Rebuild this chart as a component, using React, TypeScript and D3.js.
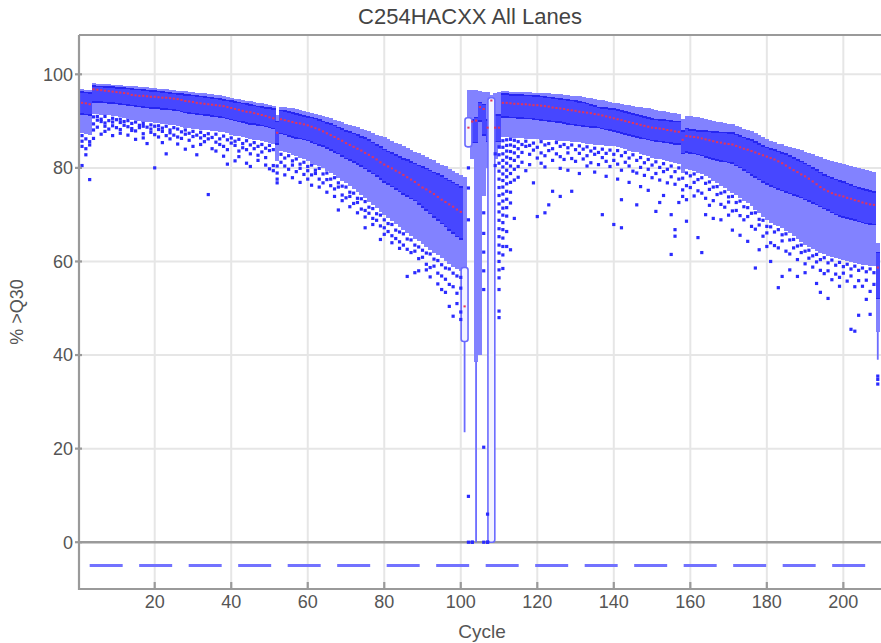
import * as d3 from 'd3';

// % >Q30 per cycle, one box per cycle (index = cycle - 1)
const hi = [
  96.8, 96.7, 96.6, 98.1, 98.0, 98.0, 97.9, 97.9, 97.8, 97.8,
  97.7, 97.6, 97.5, 97.4, 97.4, 97.3, 97.2, 97.2, 97.1, 97.0,
  96.9, 96.9, 96.8, 96.7, 96.6, 96.5, 96.5, 96.4, 96.3, 96.2,
  96.1, 96.0, 95.9, 95.8, 95.7, 95.6, 95.5, 95.3, 95.2, 95.0,
  94.8, 94.7, 94.5, 94.4, 94.2, 94.1, 93.9, 93.8, 93.6, 93.5,
  93.3, 91.2, 93.1, 93.0, 92.8, 92.7, 92.5, 92.4, 92.2, 92.0,
  91.8, 91.6, 91.3, 91.1, 90.8, 90.6, 90.3, 90.0, 89.7, 89.4,
  89.2, 88.9, 88.7, 88.4, 88.2, 87.8, 87.5, 87.1, 86.8, 86.5,
  86.1, 85.8, 85.4, 85.1, 84.7, 84.3, 83.9, 83.5, 83.2, 82.8,
  82.4, 82.0, 81.6, 81.1, 80.7, 80.3, 79.8, 79.4, 78.9, 78.5,
  78.0, 96.7, 96.7, 96.7, 96.5, 96.3, 96.2, 95.5, 96.0, 96.3,
  96.4, 96.4, 96.3, 96.3, 96.3, 96.2, 96.2, 96.2, 96.1, 96.1,
  96.0, 95.9, 95.9, 95.8, 95.7, 95.7, 95.6, 95.5, 95.4, 95.4,
  95.3, 95.2, 95.0, 94.9, 94.8, 94.6, 94.5, 94.3, 94.1, 93.9,
  93.8, 93.6, 93.5, 93.4, 93.3, 93.1, 93.0, 92.8, 92.7, 92.5,
  92.4, 92.2, 92.1, 92.0, 91.8, 91.7, 91.5, 90.5, 91.0, 91.0,
  90.9, 90.8, 90.6, 90.5, 90.3, 90.1, 89.9, 89.7, 89.6, 89.4,
  89.3, 89.0, 88.7, 88.4, 88.1, 87.8, 87.4, 87.0, 86.6, 86.2,
  85.8, 85.5, 85.2, 85.0, 84.7, 84.5, 84.2, 84.0, 83.8, 83.5,
  83.2, 82.9, 82.6, 82.3, 82.0, 81.7, 81.4, 81.2, 81.0, 80.8,
  80.6, 80.4, 80.2, 80.0, 79.8, 79.6, 79.4, 79.2, 64.0,
];

const q3 = [
  96.3, 96.2, 96.1, 97.6, 97.5, 97.5, 97.4, 97.4, 97.3, 97.2,
  97.2, 97.1, 97.0, 96.9, 96.8, 96.8, 96.7, 96.6, 96.5, 96.5,
  96.4, 96.3, 96.2, 96.1, 96.0, 95.9, 95.8, 95.7, 95.6, 95.5,
  95.4, 95.3, 95.2, 95.1, 95.0, 94.9, 94.8, 94.6, 94.5, 94.3,
  94.1, 94.0, 93.8, 93.7, 93.5, 93.4, 93.2, 93.1, 92.9, 92.8,
  92.6, 90.0, 92.3, 92.2, 92.0, 91.8, 91.6, 91.4, 91.2, 91.0,
  90.8, 90.6, 90.3, 90.0, 89.7, 89.4, 89.1, 88.7, 88.4, 88.0,
  87.7, 87.4, 87.1, 86.7, 86.4, 86.0, 85.5, 85.0, 84.5, 84.0,
  83.6, 83.2, 82.8, 82.4, 82.0, 81.7, 81.3, 81.0, 80.6, 80.3,
  79.9, 79.5, 79.1, 78.7, 78.3, 77.8, 77.4, 76.9, 76.5, 76.0,
  58.7, 90.7, 90.3, 90.8, 94.0, 93.6, 90.3, 95.0, 91.4, 91.4,
  95.8, 95.8, 95.7, 95.7, 95.6, 95.6, 95.5, 95.5, 95.4, 95.4,
  95.3, 95.2, 95.1, 95.0, 94.9, 94.8, 94.7, 94.6, 94.5, 94.4,
  94.2, 94.0, 93.8, 93.5, 93.3, 93.0, 92.9, 92.8, 92.7, 92.6,
  92.4, 92.2, 92.0, 91.8, 91.6, 91.4, 91.2, 91.0, 90.7, 90.5,
  90.4, 90.3, 90.3, 90.2, 90.1, 90.0, 90.0, 88.0, 88.5, 88.2,
  88.1, 88.0, 87.9, 87.9, 87.8, 87.7, 87.7, 87.6, 87.6, 87.5,
  87.5, 87.2, 86.9, 86.6, 86.3, 86.0, 85.6, 85.2, 84.8, 84.4,
  84.1, 83.9, 83.6, 83.3, 83.0, 82.6, 82.2, 81.8, 81.4, 81.0,
  80.6, 80.1, 79.6, 79.1, 78.6, 78.2, 77.9, 77.6, 77.3, 77.0,
  76.7, 76.4, 76.1, 75.8, 75.5, 75.3, 75.1, 74.9, 62.0,
];

const med = [
  93.9, 93.8, 93.6, 96.8, 96.7, 96.6, 96.5, 96.4, 96.3, 96.2,
  96.1, 96.0, 95.9, 95.6, 95.5, 95.4, 95.4, 95.3, 95.2, 95.2,
  95.1, 95.0, 95.0, 94.9, 94.8, 94.7, 94.5, 94.3, 94.2, 94.1,
  93.9, 93.8, 93.7, 93.6, 93.5, 93.4, 93.3, 93.2, 93.0, 92.8,
  92.6, 92.4, 92.2, 92.0, 91.9, 91.7, 91.5, 91.3, 91.1, 90.8,
  90.6, 87.5, 90.4, 90.2, 90.0, 89.8, 89.6, 89.5, 89.3, 89.1,
  88.8, 88.5, 88.2, 87.8, 87.4, 87.0, 86.6, 86.2, 85.8, 85.3,
  84.9, 84.5, 84.1, 83.7, 83.2, 82.8, 82.3, 81.8, 81.2, 80.7,
  80.3, 79.9, 79.4, 79.0, 78.5, 78.0, 77.5, 77.0, 76.4, 75.8,
  75.4, 74.9, 74.4, 73.8, 73.2, 72.7, 72.2, 71.7, 71.1, 70.6,
  50.4, 88.6, 89.9, 90.1, 93.0, 92.6, 88.6, 94.4, 88.6, 88.6,
  93.9, 93.9, 93.8, 93.7, 93.7, 93.6, 93.6, 93.5, 93.4, 93.4,
  93.3, 93.2, 93.1, 92.9, 92.8, 92.7, 92.6, 92.4, 92.3, 92.2,
  92.0, 91.9, 91.8, 91.7, 91.5, 91.4, 91.2, 91.0, 90.8, 90.6,
  90.4, 90.2, 90.0, 89.8, 89.6, 89.4, 89.2, 89.0, 88.8, 88.6,
  88.5, 88.4, 88.3, 88.1, 88.0, 87.8, 87.7, 86.0, 86.8, 86.7,
  86.6, 86.5, 86.3, 86.1, 85.9, 85.7, 85.5, 85.4, 85.2, 85.1,
  85.0, 84.7, 84.4, 84.1, 83.9, 83.6, 83.3, 83.0, 82.7, 82.4,
  82.1, 81.8, 81.4, 81.0, 80.5, 80.0, 79.5, 79.1, 78.6, 78.2,
  77.7, 77.1, 76.5, 75.9, 75.4, 75.0, 74.6, 74.3, 74.1, 73.9,
  73.6, 73.4, 73.1, 72.9, 72.6, 72.4, 72.2, 72.1, 58.7,
];

const q1 = [
  91.5, 91.4, 91.2, 94.1, 94.0, 94.0, 93.9, 93.8, 93.8, 93.7,
  93.6, 93.5, 93.4, 93.3, 93.2, 93.1, 93.0, 92.9, 92.8, 92.8,
  92.7, 92.6, 92.5, 92.4, 92.3, 92.2, 92.0, 91.8, 91.7, 91.6,
  91.5, 91.4, 91.3, 91.2, 91.0, 90.9, 90.8, 90.7, 90.5, 90.3,
  90.1, 89.9, 89.8, 89.6, 89.4, 89.3, 89.1, 89.0, 88.8, 88.6,
  88.4, 85.0, 87.3, 87.1, 86.8, 86.6, 86.4, 86.2, 86.0, 85.8,
  85.5, 85.2, 84.9, 84.6, 84.2, 83.8, 83.4, 83.0, 82.5, 82.0,
  81.6, 81.2, 80.8, 80.3, 79.8, 79.3, 78.8, 78.2, 77.6, 77.0,
  76.5, 76.0, 75.4, 74.9, 74.4, 73.9, 73.4, 73.0, 72.3, 71.6,
  70.9, 70.2, 69.5, 68.8, 68.1, 67.4, 66.7, 66.0, 65.3, 64.7,
  42.9, 84.5, 85.4, 85.4, 90.0, 87.0, 85.6, 0.0, 85.6, 85.6,
  90.8, 90.8, 90.7, 90.7, 90.6, 90.6, 90.5, 90.5, 90.4, 90.3,
  90.2, 90.1, 90.0, 89.9, 89.8, 89.7, 89.5, 89.4, 89.2, 89.1,
  89.0, 88.9, 88.8, 88.7, 88.7, 88.6, 88.4, 88.2, 88.0, 87.8,
  87.6, 87.4, 87.2, 87.0, 86.8, 86.6, 86.4, 86.2, 86.0, 85.8,
  85.7, 85.6, 85.5, 85.4, 85.3, 85.1, 85.0, 83.0, 83.4, 83.2,
  83.0, 82.8, 82.6, 82.3, 82.1, 81.9, 81.6, 81.4, 81.3, 81.1,
  81.0, 80.5, 80.0, 79.5, 79.0, 78.5, 78.0, 77.5, 77.0, 76.5,
  76.1, 75.8, 75.5, 75.1, 74.8, 74.5, 74.2, 73.9, 73.6, 73.2,
  72.9, 72.5, 72.1, 71.7, 71.3, 70.9, 70.4, 70.0, 69.7, 69.4,
  69.2, 69.0, 68.8, 68.5, 68.3, 68.1, 68.0, 67.9, 52.0,
];

const lo = [
  87.5, 87.3, 87.0, 91.6, 91.5, 91.4, 91.3, 91.2, 91.1, 91.0,
  90.8, 90.7, 90.5, 90.3, 90.2, 90.0, 89.9, 89.8, 89.7, 89.6,
  89.5, 89.4, 89.3, 89.2, 89.1, 89.0, 88.8, 88.6, 88.5, 88.4,
  88.3, 88.2, 88.1, 88.0, 87.9, 87.8, 87.7, 87.6, 87.4, 87.1,
  86.9, 86.8, 86.6, 86.4, 86.2, 86.0, 85.9, 85.7, 85.5, 85.3,
  85.0, 81.5, 83.6, 83.4, 83.1, 82.8, 82.5, 82.2, 81.8, 81.5,
  81.1, 80.7, 80.3, 79.9, 79.4, 78.9, 78.4, 77.9, 77.3, 76.7,
  76.1, 75.5, 74.9, 74.2, 73.5, 72.8, 72.1, 71.4, 70.6, 70.0,
  69.3, 68.7, 68.0, 67.4, 66.8, 66.1, 65.5, 64.9, 64.3, 63.7,
  63.1, 62.5, 61.9, 61.3, 60.7, 60.1, 59.5, 58.9, 58.4, 58.0,
  42.9, 84.5, 82.0, 38.6, 40.0, 74.0, 80.0, 0.0, 82.0, 84.0,
  86.5, 86.5, 86.4, 86.4, 86.3, 86.3, 86.2, 86.2, 86.1, 86.1,
  86.0, 86.0, 85.9, 85.9, 85.8, 85.8, 85.7, 85.7, 85.6, 85.6,
  85.5, 85.4, 85.2, 85.0, 84.9, 84.8, 84.8, 84.7, 84.7, 84.6,
  84.4, 84.2, 84.0, 83.7, 83.5, 83.3, 83.0, 82.8, 82.5, 82.2,
  82.0, 81.8, 81.6, 81.4, 81.2, 81.0, 80.8, 79.0, 79.8, 79.6,
  79.3, 79.0, 78.6, 78.2, 77.8, 77.3, 76.7, 76.1, 75.6, 75.1,
  74.7, 74.2, 73.6, 73.0, 72.4, 71.8, 71.1, 70.4, 69.6, 68.9,
  68.2, 67.8, 67.5, 67.2, 66.6, 66.0, 65.4, 64.8, 64.2, 63.6,
  63.1, 62.6, 62.2, 61.8, 61.5, 61.2, 61.0, 60.7, 60.5, 60.3,
  60.1, 59.9, 59.7, 59.5, 59.3, 59.2, 59.1, 59.0, 45.0,
];

// whisker tails below the filled range: [cycle, value]
const tails: [number, number][] = [[101, 23.5], [104, 0], [209, 39]];
// cycles whose IQR box is drawn open
const hollowCycles = [101, 102, 108];

// outlier tiles per cycle (index = cycle - 1)
const outliers: number[][] = [
  [86.9, 85.7, 84.6, 80.5], [86.2, 84.1, 82.8], [85.6, 84.9, 77.5], [90.9, 89.4, 88.1, 86.3], [91.0, 90.2, 88.7],
  [90.4, 89.9, 87.2], [91.0, 89.6, 88.9, 87.8], [90.1, 88.3], [90.6, 89.8, 89.0, 86.9], [90.3, 88.6],
  [90.4, 89.7, 88.2, 87.4], [89.9, 89.1], [90.1, 88.8, 87.0], [89.5, 88.4, 88.0], [89.8, 87.9, 86.1],
  [89.1, 88.6], [89.5, 88.9, 87.3, 86.4], [88.7, 85.2], [89.2, 88.3, 87.6], [88.9, 87.1, 80.0],
  [89.0, 88.2, 86.6], [88.5, 87.8, 85.4], [88.9, 86.9, 83.0], [88.1, 87.5, 86.2], [88.6, 87.0],
  [88.3, 86.6, 85.1], [87.7, 86.3], [88.1, 87.2, 84.0], [87.4, 85.9], [87.8, 86.7, 84.6],
  [87.0, 82.8], [87.6, 86.4, 85.0], [86.9, 85.6], [87.3, 86.2, 74.3], [86.5, 84.1],
  [87.2, 85.5, 83.6], [86.2, 85.0], [86.8, 84.6, 82.5], [86.0, 83.9, 80.8], [86.4, 85.3],
  [85.7, 84.8, 81.5], [86.1, 83.6, 82.4], [85.2, 84.3], [85.8, 83.9, 81.0], [84.9, 83.0, 80.3],
  [85.4, 84.1], [84.6, 82.7, 81.6], [85.0, 83.4], [84.2, 82.2, 80.6], [84.8, 83.7, 79.8],
  [83.9, 80.5, 79.4], [80.4, 78.9, 77.6, 76.8], [82.9, 81.2], [82.1, 80.4, 78.5], [82.6, 79.7],
  [81.5, 80.6, 77.9], [81.9, 79.2], [80.8, 79.9, 76.9], [81.2, 78.6], [80.3, 79.4, 77.6],
  [80.6, 78.5, 76.3], [79.5, 78.8], [79.9, 77.6, 75.9], [78.7, 76.8], [78.9, 77.5, 74.8],
  [77.6, 76.2], [77.9, 75.5, 73.9], [76.8, 75.9, 71.0], [76.1, 74.2, 73.0], [75.9, 73.6],
  [74.8, 73.9, 71.7], [74.6, 72.4], [73.5, 72.6, 70.4], [73.4, 71.2], [72.8, 70.9, 69.5, 67.2],
  [71.6, 70.3], [71.3, 69.2, 67.9], [70.2, 68.8], [69.9, 67.6, 64.7], [68.9, 67.2, 65.8],
  [68.1, 66.4], [67.9, 65.5, 64.0], [66.7, 64.9], [66.3, 64.2, 62.8], [65.9, 63.5],
  [64.8, 62.6, 56.8], [64.6, 61.9], [63.5, 62.2, 57.6], [63.1, 60.6, 58.0], [62.4, 60.9],
  [61.8, 59.4, 58.2], [61.6, 58.7, 56.7], [60.5, 59.0], [60.2, 57.5, 55.2], [59.3, 56.9, 54.0],
  [58.6, 56.2, 53.4], [58.4, 55.1, 50.4], [57.5, 54.6, 48.3], [56.9, 53.2, 51.0], [56.6, 54.3, 49.2, 47.6],
  [], [80.0, 75.7, 68.9, 9.8, 0], [0, 0], [], [],
  [70.4, 66.0, 62.0, 58.0, 54.0, 20.3, 0], [6.0, 0, 0], [], [83.0, 80.5],
  [84.5, 82.8, 81.0, 79.3, 77.6, 75.8, 74.1, 72.3, 70.6, 68.8, 67.0, 65.3, 63.5, 61.8, 60.0, 58.2, 56.5, 54.0, 49.4, 48.0],
  [85.8, 84.4, 83.0, 81.6, 80.2, 78.7, 77.3, 75.9, 74.4, 72.9, 71.4, 69.9, 68.3, 66.8, 65.0, 63.2, 61.4, 58.5],
  [86.0, 84.8, 83.6, 82.3, 81.0, 79.5, 78.1, 76.6, 75.0, 73.3, 71.5, 69.7, 66.4, 63.2],
  [86.1, 84.9, 83.5, 82.0, 80.4, 78.8, 76.9, 74.8, 72.5, 62.5],
  [85.9, 84.6, 83.2, 81.6, 79.7, 77.4, 69.2], [85.6, 84.1, 82.4, 80.3, 78.0],
  [85.0, 83.3, 81.2], [85.7, 84.6, 79.4], [84.8, 82.9, 80.7], [85.3, 83.8, 76.8], [84.4, 82.1, 69.6],
  [85.6, 83.2, 81.0], [84.9, 82.6, 80.2, 70.4], [85.2, 83.7, 72.1], [84.1, 81.6, 75.0], [85.4, 83.0],
  [84.6, 82.4, 79.9, 73.9], [85.0, 81.8], [84.3, 83.2, 79.5], [84.9, 82.0, 75.0], [83.9, 81.4],
  [84.7, 83.1, 78.8], [84.0, 81.9], [84.5, 82.6, 80.4], [83.6, 81.1], [84.2, 82.9, 79.1],
  [83.3, 80.7], [84.0, 82.2, 70.0], [83.1, 81.4, 78.2], [83.8, 80.3], [82.9, 81.6, 67.9],
  [83.7, 80.8, 77.6], [82.6, 79.5, 73.2, 67.2], [83.3, 81.2], [82.1, 80.4, 76.9], [82.8, 79.3],
  [81.6, 78.9, 72.1], [82.2, 80.1, 76.0], [81.1, 78.4], [81.8, 79.7, 75.2], [80.6, 77.9],
  [81.3, 78.8, 70.7], [80.1, 77.4, 72.6], [80.9, 79.2, 74.1], [79.7, 76.8], [80.4, 78.1, 70.0, 61.5],
  [79.2, 76.5, 66.8, 65.4], [80.0, 77.6, 72.6], [77.8, 75.3, 73.9], [78.9, 76.2, 73.2, 68.6], [78.3, 75.8],
  [78.7, 76.9, 74.0], [77.5, 75.1, 65.1], [77.9, 74.6, 61.9], [76.7, 73.5, 70.0], [77.0, 75.4, 72.0],
  [75.9, 73.0, 69.2], [76.0, 74.3], [74.6, 72.2, 68.9], [74.9, 71.6], [73.8, 72.7, 69.9],
  [73.9, 70.8, 66.7], [72.6, 70.9], [72.9, 69.8, 65.6], [71.7, 68.9], [71.5, 69.6, 64.3],
  [70.3, 67.5], [70.4, 66.9, 58.6], [69.0, 67.8, 62.5], [68.8, 65.4], [67.5, 66.1, 63.2],
  [67.4, 64.0, 60.0], [66.3, 63.4], [66.8, 62.9, 54.4], [65.7, 64.4, 56.8], [65.9, 62.2],
  [64.6, 61.6, 58.2], [64.7, 62.9], [63.3, 60.4, 56.8], [63.5, 61.9], [62.2, 59.5, 57.6],
  [62.4, 60.7], [61.2, 58.8], [61.5, 59.9, 55.3], [60.4, 58.1, 53.4], [60.8, 57.4],
  [59.7, 58.0, 52.1], [60.3, 56.1], [59.2, 57.3], [59.8, 56.6, 54.7], [58.9, 57.5],
  [59.4, 55.8], [58.4, 56.9, 45.5], [59.0, 54.6, 45.1], [58.1, 55.9, 48.5], [58.6, 54.7],
  [57.8, 56.0, 51.9], [58.4, 53.6, 48.7], [57.6, 55.1], [35.5, 34.8, 33.8],
];

const xTicks = [20, 40, 60, 80, 100, 120, 140, 160, 180, 200];
const yTicks = [0, 20, 40, 60, 80, 100];
const thresholdLevel = -5;
const thresholdStart = 3;

const title = 'C254HACXX All Lanes';
const xLabel = 'Cycle';
const yLabel = '% >Q30';

const width = 881;
const height = 643;
const margin = { top: 35, right: 0, bottom: 54, left: 79 };

const LIGHT = '#8282ff';
const DARK = '#4747ff';
const EDGE = '#2626f2';
const DOT = '#2b2bff';
const MEDIAN = '#e2345e';
const AXIS = '#9a9a9a';
const GRID = '#e6e6e6';
const TEXT = '#555555';

export default function App() {
  const x = d3.scaleLinear().domain([0, 210]).range([78.2, 881.6]);
  const y = d3.scaleLinear().domain([-10, 108.4]).range([height - margin.bottom, margin.top]);
  const step = x(1) - x(0);
  const cycles = d3.range(1, hi.length + 1);
  const left = margin.left;
  const bottom = height - margin.bottom;
  const font = "'Liberation Sans', Arial, sans-serif";

  return (
    <div style={{ position: 'absolute', left: 0, top: 0 }}>
      <svg width={width} height={height} style={{ display: 'block', background: '#fff' }} fontFamily={font}>
        {/* grid */}
        <g>
          {xTicks.map((t) => (
            <line key={'gx' + t} x1={x(t)} x2={x(t)} y1={margin.top} y2={bottom} stroke={GRID} strokeWidth={2} />
          ))}
          {yTicks.map((t) => (
            <line key={'gy' + t} x1={left} x2={width} y1={y(t)} y2={y(t)} stroke={t === 0 ? AXIS : GRID} strokeWidth={t === 0 ? 2.6 : 2} />
          ))}
        </g>

        {/* threshold */}
        <line x1={x(thresholdStart)} x2={width} y1={y(thresholdLevel)} y2={y(thresholdLevel)}
          stroke="#7272ff" strokeWidth={3} strokeDasharray="33 16.5" />

        {/* whisker range */}
        <g shapeRendering="crispEdges">
          {cycles.map((c, i) => {
            const hollow = hollowCycles.includes(c);
            const bot = hollow ? q3[i] : lo[i];
            return (
              <rect key={'l' + c} x={x(c) - step / 2} width={step + 0.4} y={y(hi[i])}
                height={Math.max(0, y(bot) - y(hi[i]))} fill={LIGHT} />
            );
          })}
        </g>

        {/* tails */}
        <g>
          {tails.map(([c, v]) => {
            const i = c - 1;
            const from = hollowCycles.includes(c) ? q1[i] : lo[i];
            return <line key={'t' + c} x1={x(c)} x2={x(c)} y1={y(from)} y2={y(v)} stroke="#6b6bff" strokeWidth={1.8} />;
          })}
        </g>

        {/* interquartile boxes */}
        <g shapeRendering="crispEdges">
          {cycles.filter((c) => !hollowCycles.includes(c)).map((c) => {
            const i = c - 1;
            return (
              <g key={'b' + c}>
                <rect x={x(c) - step / 2} width={step + 0.4} y={y(q3[i])} height={y(q1[i]) - y(q3[i])} fill={DARK} />
                <rect x={x(c) - step / 2} width={step + 0.4} y={y(q3[i]) - 0.5} height={1.6} fill={EDGE} />
                <rect x={x(c) - step / 2} width={step + 0.4} y={y(q1[i]) - 1} height={1.6} fill={EDGE} />
              </g>
            );
          })}
        </g>
        <g>
          {hollowCycles.map((c) => {
            const i = c - 1;
            return (
              <rect key={'h' + c} x={x(c) - step * 0.9} width={step * 1.8} y={y(q3[i])} height={y(q1[i]) - y(q3[i])}
                rx={2.5} fill="#f3f3ff" stroke="#6a6aff" strokeWidth={1.6} />
            );
          })}
        </g>

        {/* outliers */}
        <g>
          {cycles.flatMap((c, i) =>
            outliers[i].map((v, j) => (
              <rect key={`o${c}-${j}`} x={x(c) - 1.6} y={y(v) - 1.6} width={3.2} height={3.2} fill={DOT} />
            ))
          )}
        </g>

        {/* medians */}
        <g>
          {cycles.map((c, i) => (
            <rect key={'m' + c} x={x(c) - 1.1} y={y(med[i]) - 1} width={2.2} height={2} fill={MEDIAN} />
          ))}
        </g>

        {/* frame */}
        <g stroke={AXIS} strokeWidth={2.2}>
          <line x1={left} x2={left} y1={margin.top} y2={bottom + 1} />
          <line x1={left} x2={width} y1={margin.top} y2={margin.top} />
          <line x1={left} x2={width} y1={bottom} y2={bottom} />
          {yTicks.map((t) => (
            <line key={'ty' + t} x1={left - 4} x2={left + 3} y1={y(t)} y2={y(t)} />
          ))}
          {xTicks.map((t) => (
            <line key={'tx' + t} x1={x(t)} x2={x(t)} y1={bottom - 7} y2={bottom} />
          ))}
        </g>

        {/* labels */}
        <g fill={TEXT} fontSize={18}>
          {yTicks.map((t) => (
            <text key={'ly' + t} x={left - 6} y={y(t)} dy="0.35em" textAnchor="end">{t}</text>
          ))}
          {xTicks.map((t) => (
            <text key={'lx' + t} x={x(t)} y={bottom + 19} textAnchor="middle">{t}</text>
          ))}
        </g>
        <text x={470} y={24} textAnchor="middle" fontSize={22} fill="#444">{title}</text>
        <text x={482} y={638} textAnchor="middle" fontSize={19} fill={TEXT}>{xLabel}</text>
        <text transform={`translate(23,${(margin.top + bottom) / 2}) rotate(-90)`} textAnchor="middle" fontSize={18} fill={TEXT}>{yLabel}</text>
      </svg>
    </div>
  );
}
